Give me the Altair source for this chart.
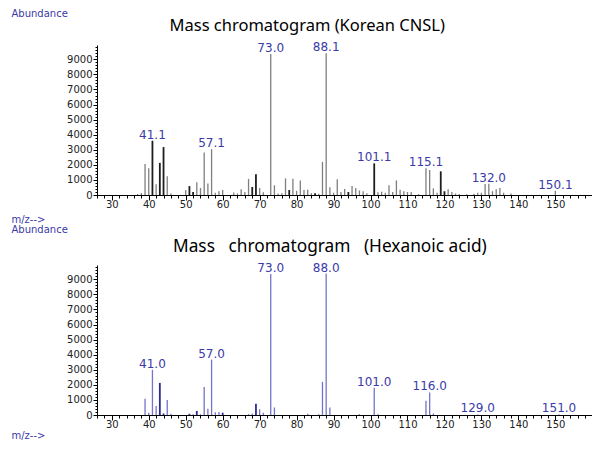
import altair as alt
import pandas as pd

# ---------------- data ----------------
cnsl_mz = [37, 38, 39, 40, 41, 42, 43, 44, 45, 46,
           50, 51, 52, 53, 54, 55, 56, 57, 58, 59, 60,
           63, 64, 65, 66, 67, 68, 69, 70, 71, 73, 74, 75, 76, 77, 78, 79, 80,
           81, 82, 83, 84, 85, 86, 87, 88, 89, 90, 91, 92, 93, 94, 95, 96, 97, 98, 99,
           101, 102, 103, 104, 105, 106, 107, 108, 109, 110, 111, 113,
           115, 116, 117, 118, 119, 120, 121, 122, 123, 124, 126, 128, 129, 130,
           131, 132, 133, 134, 135, 136, 138, 150]
cnsl_ab = [60, 130, 2050, 1780, 3600, 720, 2130, 3180, 1250, 100,
           330, 590, 200, 840, 460, 2820, 770, 3040, 150, 250, 330,
           160, 100, 380, 200, 1070, 530, 1370, 470, 190, 9350, 640, 100, 110, 1100, 330, 1080, 280,
           970, 330, 350, 120, 110, 90, 2200, 9400, 510, 150, 1040, 200, 400, 200, 600, 460, 300, 250, 120,
           2100, 180, 220, 150, 640, 200, 970, 350, 250, 200, 200, 60,
           1770, 1660, 440, 150, 1570, 250, 380, 200, 100, 60, 50, 80, 150, 150,
           730, 750, 250, 380, 460, 150, 100, 290]
cnsl_dark = [41, 43, 44, 51, 52, 68, 69, 78, 85, 94, 101, 119, 120]
cnsl_label_mz = [41, 57, 73, 88, 101, 115, 132, 150]
cnsl_label_txt = ["41.1", "57.1", "73.0", "88.1", "101.1", "115.1", "132.0", "150.1"]

hex_mz = [39, 40, 41, 42, 43, 44, 45, 46, 51, 52, 53, 54, 55, 56, 57, 58, 59, 60,
          67, 68, 69, 70, 71, 73, 74, 83, 86, 87, 88, 89, 97, 101, 102,
          115, 116, 117, 129, 151]
hex_ab = [1080, 150, 3000, 600, 2130, 100, 990, 80, 80, 50, 270, 50, 1860, 420, 3670, 180, 200, 150,
          60, 100, 750, 380, 150, 9360, 500, 80, 50, 2200, 9380, 490, 60, 1800, 50,
          950, 1500, 100, 40, 40]
hex_dark = [43, 44, 51, 53, 60, 69]
hex_label_mz = [41, 57, 73, 88, 101, 116, 129, 151]
hex_label_txt = ["41.0", "57.0", "73.0", "88.0", "101.0", "116.0", "129.0", "151.0"]

titles = ["Mass chromatogram (Korean CNSL)",
          "Mass\u00a0\u00a0 chromatogram\u00a0\u00a0 (Hexanoic acid)"]

X_DOMAIN = [26, 161]
Y_DOMAIN = [0, 9950]
x_minor = list(range(26, 161, 2))
x_major = list(range(30, 151, 10))
y_minor = list(range(0, 9801, 200))
y_major = list(range(0, 9001, 1000))

LABEL_BLUE = "#3a3aa8"
FONT = "DejaVu Sans"


def panel(mz, ab, dark, lab_mz, lab_txt, title, light_col, dark_col,
          title_dx, title_dy, title_size, abund_y, mz_y):
    df = pd.DataFrame({"mz": mz, "ab": ab})
    df["tone"] = ["dark" if m in dark else "light" for m in mz]
    lab = pd.DataFrame({"mz": lab_mz, "txt": lab_txt})
    lab = lab.merge(df[["mz", "ab"]], on="mz", how="left")

    xs = alt.Scale(domain=X_DOMAIN, nice=False, zero=False)
    ys = alt.Scale(domain=Y_DOMAIN, nice=False)

    x_minor_axis = alt.Axis(
        orient="bottom", values=x_minor, labels=False, tickSize=3,
        domainColor="black", tickColor="black", grid=False,
        title="m/z-->", titleFont=FONT, titleFontSize=10, titleFontWeight="normal",
        titleColor=LABEL_BLUE, titleAngle=0, titleAlign="left", titleBaseline="middle",
        titleX=-86, titleY=mz_y,
    )
    y_minor_axis = alt.Axis(
        orient="left", values=y_minor, labels=False, tickSize=2,
        domainColor="black", tickColor="black", grid=False,
        title="Abundance", titleFont=FONT, titleFontSize=10, titleFontWeight="normal",
        titleColor=LABEL_BLUE, titleAngle=0, titleAlign="left", titleBaseline="middle",
        titleX=-86, titleY=abund_y,
    )
    x_major_axis = alt.Axis(
        orient="bottom", values=x_major, format="d", tickSize=5, labelPadding=-1,
        labelFont=FONT, labelFontSize=10, labelColor="#222222", labelOverlap=False,
        domain=False, tickColor="black", grid=False, title=None,
    )
    y_major_axis = alt.Axis(
        orient="left", values=y_major, format="d", tickSize=4, labelPadding=1,
        labelFont=FONT, labelFontSize=10, labelColor="#222222", labelOverlap=False,
        domain=False, tickColor="black", grid=False, title=None,
    )

    bars = alt.Chart(df).mark_rule().encode(
        x=alt.X("mz:Q", scale=xs, axis=x_minor_axis),
        y=alt.Y("ab:Q", scale=ys, axis=y_minor_axis),
        y2=alt.datum(0),
        color=alt.Color("tone:N", scale=alt.Scale(domain=["light", "dark"], range=[light_col, dark_col]), legend=None),
        size=alt.Size("tone:N", scale=alt.Scale(domain=["light", "dark"], range=[1.3, 1.8]), legend=None),
    )
    labels = alt.Chart(lab).mark_text(
        baseline="alphabetic", align="center", dy=-2, font=FONT, fontSize=12, color=LABEL_BLUE
    ).encode(
        x=alt.X("mz:Q", scale=xs, axis=x_major_axis),
        y=alt.Y("ab:Q", scale=ys, axis=y_major_axis),
        text="txt:N",
    )

    return alt.layer(bars, labels).resolve_axis(x="independent", y="independent").properties(
        width=499,
        height=150,
        title=alt.TitleParams(
            text=title, anchor="start", frame="group", dx=title_dx, dy=title_dy, offset=12,
            font="Noto Sans", fontSize=title_size, fontWeight="normal", color="black",
        ),
    )


top = panel(cnsl_mz, cnsl_ab, cnsl_dark, cnsl_label_mz, cnsl_label_txt, titles[0],
            "#7f7f7f", "#1e1e1e", 72.5, 38.5, 16.5, -32, 24)
bottom = panel(hex_mz, hex_ab, hex_dark, hex_label_mz, hex_label_txt, titles[1],
               "#7474c8", "#2c2c96", 76, 42.8, 17.3, -35.5, 20)

chart = alt.vconcat(top, bottom, spacing=0).resolve_scale(
    color="independent", size="independent"
).properties(
    padding={"left": 3, "top": 0, "right": -4, "bottom": 0},
    background="white",
).configure_view(stroke=None)

chart.save("out.html", embed_options={"renderer": "svg", "actions": False})
